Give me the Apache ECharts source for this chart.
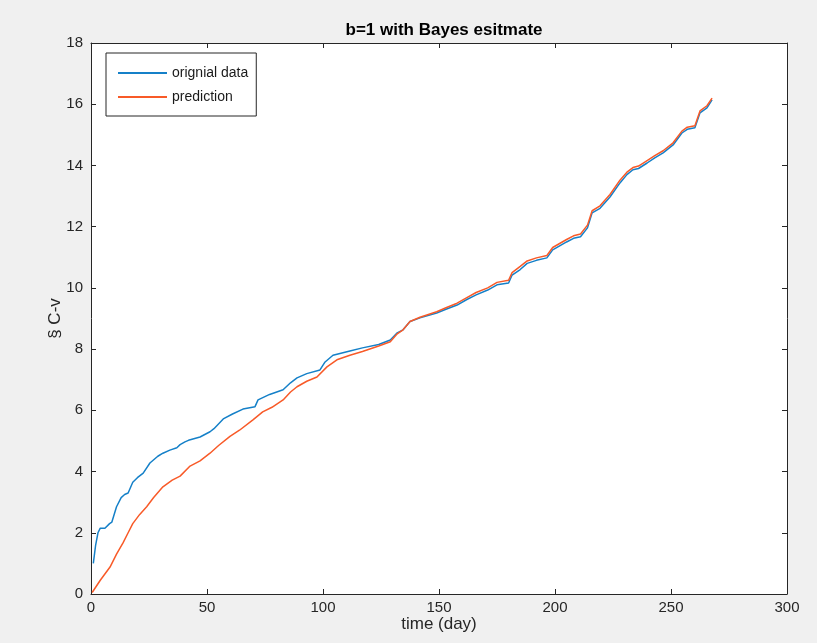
<!DOCTYPE html>
<html>
<head>
<meta charset="utf-8">
<script src="https://cdn.jsdelivr.net/npm/echarts@6/dist/echarts.min.js"></script>
<style>
html,body{margin:0;padding:0;background:#f0f0f0;}
#chart{width:817px;height:643px;}
</style>
</head>
<body>
<div id="chart"></div>
<script>
var titleText = 'b=1 with Bayes esitmate';
var xLabel = 'time (day)';
var yLabel = '§ C-v';
var seriesNames = ['orignial data', 'prediction'];

var origT = [1,2,3,4,6,8,9,11,13,14.5,16,18,20,22.5,25.4,28.8,31,34,37,38.4,40.5,42,47,51.3,53,57,61,65.5,70.7,72,77,82.8,86,88.8,93,98.7,100.9,104.3,111.6,117,124,129,132,134.5,137.5,141.8,149,153,157.8,162,166,171,175,180,181.5,185,188,192,196.5,199,205,208,211,214,216,219.4,223.7,228,231,233.6,236,239.7,243,246.6,250.9,254.7,257,260.3,262.5,265.5,267.7];
var origV = [1.0,1.6,2.0,2.15,2.15,2.3,2.35,2.85,3.15,3.25,3.3,3.65,3.8,3.95,4.28,4.5,4.6,4.7,4.78,4.88,4.97,5.02,5.13,5.3,5.4,5.72,5.88,6.04,6.12,6.34,6.52,6.67,6.9,7.06,7.2,7.32,7.58,7.8,7.94,8.04,8.15,8.3,8.53,8.63,8.9,9.02,9.18,9.3,9.44,9.62,9.77,9.93,10.1,10.16,10.42,10.6,10.8,10.9,10.98,11.24,11.5,11.62,11.67,11.96,12.45,12.6,12.97,13.43,13.7,13.86,13.9,14.08,14.25,14.41,14.67,15.06,15.18,15.23,15.72,15.88,16.14];

var predT = [0.5,4,8.2,11,13.8,16,18,21,24,27,31,35,38.4,42.7,47,51.3,55,59.9,64,69.8,74,78,82.8,86,88.8,93,97.4,101.7,106,111.6,117,124,129,132,134.5,137.5,141.8,149,153,157.8,162,166,171,175,180,181.5,185,188,192,196.5,199,205,208,211,214,216,219.4,223.7,228,231,233.6,236,239.7,243,246.6,250.9,254.7,257,260.3,262.5,265.5,267.7];
var predV = [0.05,0.45,0.88,1.3,1.67,2.0,2.3,2.6,2.85,3.15,3.5,3.72,3.85,4.18,4.35,4.6,4.85,5.15,5.35,5.69,5.95,6.1,6.34,6.6,6.77,6.95,7.09,7.42,7.65,7.8,7.92,8.1,8.24,8.5,8.63,8.9,9.04,9.22,9.35,9.5,9.68,9.85,10.0,10.18,10.25,10.5,10.7,10.88,10.98,11.06,11.32,11.58,11.7,11.76,12.05,12.52,12.68,13.05,13.52,13.78,13.93,13.98,14.16,14.32,14.48,14.74,15.12,15.25,15.3,15.78,15.95,16.2];

function pairs(t, v){ return t.map(function(x,i){ return [x, v[i]]; }); }

var axisColor = '#262626';
var font = 'Liberation Sans, Arial, Helvetica, sans-serif';

var chart = echarts.init(document.getElementById('chart'), null, {renderer:'canvas'});
var baseX = {
  type:'value', min:0, max:300, interval:50,
  axisLine:{show:true, onZero:false, lineStyle:{color:axisColor, width:1}},
  axisTick:{show:true, inside:true, length:5, lineStyle:{color:axisColor}},
  splitLine:{show:false}
};
var baseY = {
  type:'value', min:0, max:18, interval:2,
  axisLine:{show:true, onZero:false, lineStyle:{color:axisColor, width:1}},
  axisTick:{show:true, inside:true, length:5, lineStyle:{color:axisColor}},
  splitLine:{show:false}
};
chart.setOption({
  backgroundColor:'#f0f0f0',
  animation:false,
  title:{
    text:titleText, left:439, top:17, textAlign:'center',
    textStyle:{fontFamily:font, fontSize:17, fontWeight:'bold', color:'#000'}
  },
  grid:{left:91, right:30, top:43, bottom:49, show:true, backgroundColor:'#fff', borderWidth:0},
  legend:{
    orient:'vertical', left:106, top:53,
    padding:[13,8,12,11], itemGap:10, itemWidth:49, itemHeight:14,
    backgroundColor:'#fff', borderColor:axisColor, borderWidth:1,
    itemStyle:{opacity:0, borderWidth:0},
    lineStyle:{opacity:1},
    textStyle:{fontFamily:font, fontSize:14, color:'#1a1a1a'},
    data:seriesNames
  },
  xAxis:[
    Object.assign({}, baseX, {
      position:'bottom', name:xLabel, nameLocation:'middle', nameGap:22, nameMoveOverlap:false,
      nameTextStyle:{fontFamily:font, fontSize:17, color:axisColor},
      axisLabel:{fontFamily:font, fontSize:15, color:axisColor, margin:6}
    }),
    Object.assign({}, baseX, {position:'top', axisLabel:{show:false}})
  ],
  yAxis:[
    Object.assign({}, baseY, {
      position:'left', name:yLabel, nameLocation:'middle', nameGap:27, nameRotate:90, nameMoveOverlap:false,
      nameTextStyle:{fontFamily:font, fontSize:17, color:axisColor},
      axisLabel:{fontFamily:font, fontSize:15, color:axisColor, margin:8}
    }),
    Object.assign({}, baseY, {position:'right', axisLabel:{show:false}})
  ],
  series:[
    {name:seriesNames[0], type:'line', data:pairs(origT, origV), symbol:'none', lineStyle:{color:'#1580c8', width:1.5}, itemStyle:{color:'#1580c8'}},
    {name:seriesNames[1], type:'line', data:pairs(predT, predV), symbol:'none', lineStyle:{color:'#f85a28', width:1.5}, itemStyle:{color:'#f85a28'}}
  ]
});
</script>
</body>
</html>
